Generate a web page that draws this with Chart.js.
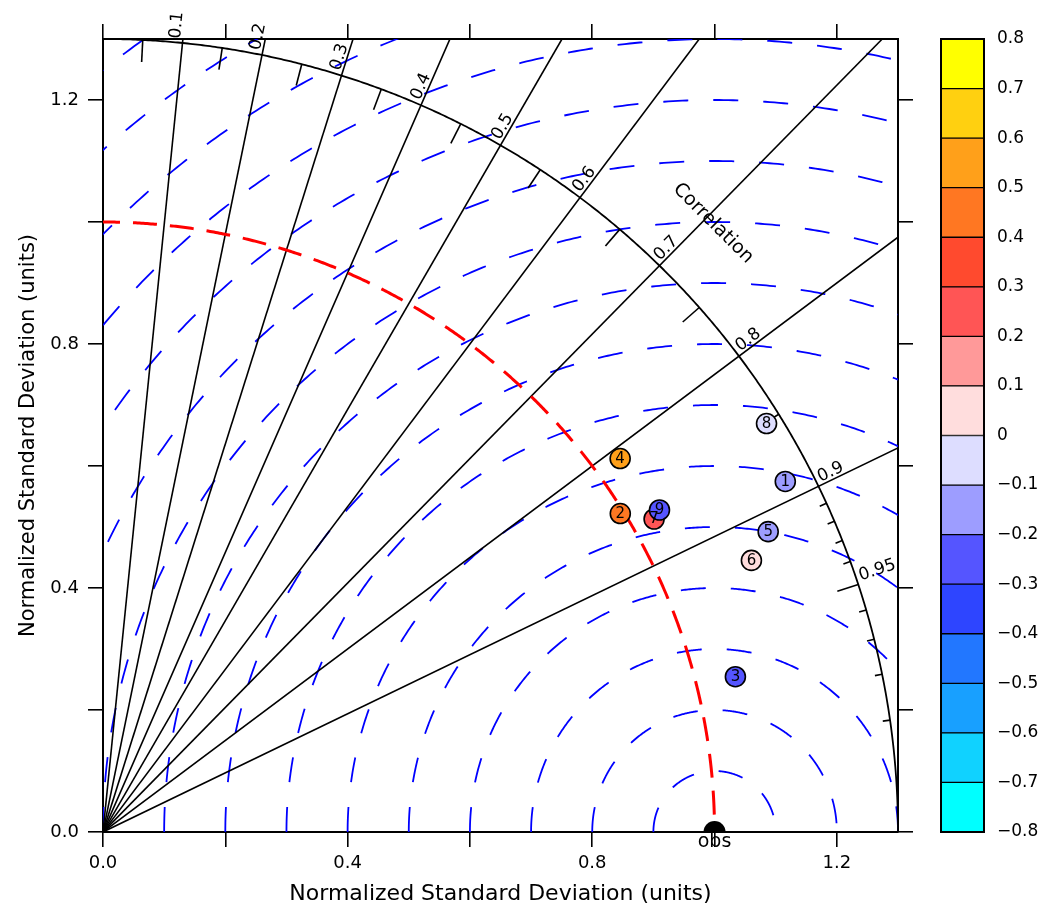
<!DOCTYPE html>
<html><head><meta charset="utf-8">
<script src="https://cdn.jsdelivr.net/npm/chart.js@4.4.0/dist/chart.umd.min.js"></script>
<style>
html,body{margin:0;padding:0;background:#fff;}
#wrap{position:relative;width:1043px;height:910px;overflow:hidden;}
#main{position:absolute;left:0;top:0;}
#cbar{position:absolute;left:930px;top:0;}
</style></head><body>
<div id="wrap"><canvas id="main" width="1043" height="910"></canvas><canvas id="cbar" width="113" height="910"></canvas></div>
<script>
// ---------------- data ----------------
const modelLabels   = ["1","2","3","4","5","6","7","8","9"];
const modelStdRatio = [1.255, 0.994, 1.065, 1.044, 1.194, 1.150, 1.037, 1.275, 1.052];
const modelCorr     = [0.889, 0.851, 0.971, 0.810, 0.911, 0.922, 0.869, 0.851, 0.865];
const modelBias     = [-0.15, 0.45, -0.25, 0.55, -0.15, 0.05, 0.25, -0.05, -0.25];
const obsStd = 1.0;
const refStd = 1.0;                       // red dashed reference arc
const axisMax = 1.3;
const axisTicks      = [0, 0.2, 0.4, 0.6, 0.8, 1.0, 1.2];
const axisTickLabels = ["0.0", "", "0.4", "", "0.8", "", "1.2"];
const corrRays       = [0.1, 0.2, 0.3, 0.4, 0.5, 0.6, 0.7, 0.8, 0.9];
const corrLabels     = [0.1, 0.2, 0.3, 0.4, 0.5, 0.6, 0.7, 0.8, 0.9, 0.95];
const corrLongTicks  = [0.05, 0.15, 0.25, 0.35, 0.45, 0.55, 0.65, 0.75, 0.85, 0.95];
const corrShortTicks = [0.91, 0.92, 0.93, 0.94, 0.96, 0.97, 0.98, 0.99];
const rmsRadii       = [0.1, 0.2, 0.3, 0.4, 0.5, 0.6, 0.7, 0.8, 0.9, 1.0, 1.1, 1.2, 1.3, 1.4, 1.5, 1.6];
const cbBounds = [-0.8,-0.7,-0.6,-0.5,-0.4,-0.3,-0.2,-0.1,0,0.1,0.2,0.3,0.4,0.5,0.6,0.7,0.8];
const cbColors = ["#00ffff","#10d2ff","#18a0ff","#2277ff","#2e45ff","#5555ff","#9d9dff","#ddddff",
                  "#ffdddd","#ff9999","#ff5555","#ff4a2e","#ff7722","#ffa01a","#ffd010","#ffff00"];
const cbTickLabels = ["\u22120.8","\u22120.7","\u22120.6","\u22120.5","\u22120.4","\u22120.3","\u22120.2","\u22120.1","0",
                      "0.1","0.2","0.3","0.4","0.5","0.6","0.7","0.8"];

const FONT = "'DejaVu Sans', sans-serif";

function binColor(v){
  for (let i=0;i<cbColors.length;i++){ if (v>=cbBounds[i] && v<cbBounds[i+1]) return cbColors[i]; }
  return v<cbBounds[0]?cbColors[0]:cbColors[cbColors.length-1];
}
const points = modelStdRatio.map((r,i)=>{
  const th = Math.acos(modelCorr[i]);
  return {x: r*Math.cos(th), y: r*Math.sin(th)};
});
const pointColors = modelBias.map(binColor);

// ---------------- taylor plugin ----------------
const taylorPlugin = {
  id: 'taylor',
  beforeDatasetsDraw(chart){
    const {ctx, chartArea: ca, scales:{x, y}} = chart;
    const P = (dx,dy)=>[x.getPixelForValue(dx), y.getPixelForValue(dy)];
    const N = 500;
    ctx.save();
    ctx.beginPath(); ctx.rect(ca.left, ca.top, ca.right-ca.left, ca.bottom-ca.top); ctx.clip();
    // centered RMS circles
    ctx.strokeStyle = '#0000ff'; ctx.lineWidth = 1.8; ctx.setLineDash([25,25]);
    for (const r of rmsRadii){
      ctx.beginPath();
      for (let k=0;k<=N;k++){
        const a = Math.PI*(1-k/N);
        const [px,py] = P(obsStd + r*Math.cos(a), r*Math.sin(a));
        if (k) ctx.lineTo(px,py); else ctx.moveTo(px,py);
      }
      ctx.stroke();
    }
    // rays
    ctx.setLineDash([]); ctx.strokeStyle = '#000'; ctx.lineWidth = 1.6;
    for (const c of corrRays){
      const th = Math.acos(c);
      const t = Math.min(axisMax/Math.cos(th), axisMax/Math.sin(th));
      const [x0,y0] = P(0,0), [x1,y1] = P(t*Math.cos(th), t*Math.sin(th));
      ctx.beginPath(); ctx.moveTo(x0,y0); ctx.lineTo(x1,y1); ctx.stroke();
    }
    // red reference arc
    ctx.strokeStyle = '#ff0000'; ctx.lineWidth = 3; ctx.setLineDash([24,13]); ctx.lineDashOffset = 7;
    ctx.beginPath();
    for (let k=0;k<=N;k++){
      const a = Math.PI/2*(1-k/N);
      const [px,py] = P(refStd*Math.cos(a), refStd*Math.sin(a));
      if (k) ctx.lineTo(px,py); else ctx.moveTo(px,py);
    }
    ctx.stroke();
    ctx.restore();

    // outer correlation arc
    ctx.save();
    ctx.strokeStyle = '#000'; ctx.lineWidth = 1.8; ctx.setLineDash([]);
    ctx.beginPath();
    for (let k=0;k<=N;k++){
      const a = Math.PI/2*k/N;
      const [px,py] = P(axisMax*Math.cos(a), axisMax*Math.sin(a));
      if (k) ctx.lineTo(px,py); else ctx.moveTo(px,py);
    }
    ctx.stroke();
    // arc ticks
    ctx.lineWidth = 1.6;
    const tick = (c,len)=>{
      const th = Math.acos(c);
      const [a1,b1] = P(axisMax*Math.cos(th), axisMax*Math.sin(th));
      const [a2,b2] = P((axisMax-len)*Math.cos(th), (axisMax-len)*Math.sin(th));
      ctx.beginPath(); ctx.moveTo(a1,b1); ctx.lineTo(a2,b2); ctx.stroke();
    };
    corrLongTicks.forEach(c=>tick(c,0.036));
    corrShortTicks.forEach(c=>tick(c,0.012));
    // correlation labels
    ctx.fillStyle = '#000'; ctx.font = '17px '+FONT; ctx.textAlign='left'; ctx.textBaseline='alphabetic';
    for (const c of corrLabels){
      const th = Math.acos(c);
      const [px,py] = P((axisMax+0.006)*Math.cos(th), (axisMax+0.006)*Math.sin(th));
      ctx.save(); ctx.translate(px,py); ctx.rotate(-th);
      ctx.fillText(String(c), 0, -3);
      ctx.restore();
    }
    // "Correlation" title
    {
      const rr = 1.411, th = Math.PI/4;
      const [px,py] = P(rr*Math.cos(th), rr*Math.sin(th));
      ctx.save(); ctx.translate(px,py); ctx.rotate(Math.PI/4);
      ctx.font = '19px '+FONT; ctx.textAlign='center'; ctx.textBaseline='middle';
      ctx.fillText('Correlation', 0, 0);
      ctx.restore();
    }
    ctx.restore();
  },
  afterDatasetsDraw(chart){
    const {ctx, chartArea: ca, scales:{x, y}} = chart;
    // point numbers
    const meta = chart.getDatasetMeta(0);
    ctx.save();
    ctx.fillStyle = '#000'; ctx.font = '15px '+FONT; ctx.textAlign='center'; ctx.textBaseline='middle';
    meta.data.forEach((el,i)=>{ ctx.fillText(modelLabels[i], el.x, el.y+0.5); });
    // obs marker
    const ox = x.getPixelForValue(obsStd), oy = y.getPixelForValue(0);
    ctx.save();
    ctx.beginPath(); ctx.rect(ca.left, ca.top, ca.right-ca.left, ca.bottom-ca.top+1); ctx.clip();
    ctx.beginPath(); ctx.arc(ox, oy, 11, 0, Math.PI*2); ctx.fill();
    ctx.restore();
    ctx.font = '19px '+FONT; ctx.textAlign='center'; ctx.textBaseline='alphabetic';
    ctx.fillText('obs', ox, oy+15);
    ctx.restore();
  }
};

// ---------------- main chart ----------------
const tickFont = {family: FONT, size: 18};
function axisCfg(pos, isLabelled, fitSize){
  const horiz = (pos==='top'||pos==='bottom');
  return {
    type:'linear', position: pos, min:0, max:axisMax,
    afterBuildTicks: s=>{ s.ticks = axisTicks.map(v=>({value:v})); },
    ticks:{ display:isLabelled, callback:(v)=>axisTickLabels[axisTicks.indexOf(v)], font:tickFont, color:'#000',
            padding: horiz?6:9, maxRotation:0, autoSkip:false },
    grid:{ drawOnChartArea:false, drawTicks:true, tickLength:15, color:'#000', lineWidth:1.6 },
    border:{ display:true, color:'#000', width:2 },
    title:{ display:isLabelled, text:'Normalized Standard Deviation (units)', color:'#000',
            font:{family:FONT, size: horiz?22:21}, padding: horiz?{top:0,bottom:3}:{top:16,bottom:0} },
    afterFit: s=>{ if (horiz) s.height = fitSize; else s.width = fitSize; }
  };
}

new Chart(document.getElementById('main'), {
  type:'scatter',
  data:{ datasets:[{
    data: points,
    backgroundColor: pointColors, borderColor:'#000', borderWidth:1.6,
    pointRadius:10, pointHoverRadius:10
  }]},
  options:{
    responsive:false, animation:false, devicePixelRatio:1,
    layout:{padding:0},
    plugins:{legend:{display:false}, tooltip:{enabled:false}},
    scales:{
      x: axisCfg('bottom', true, 78),
      x2: axisCfg('top', false, 39),
      y: axisCfg('left', true, 103),
      y2: axisCfg('right', false, 145)
    }
  },
  plugins:[taylorPlugin]
});

// ---------------- colorbar ----------------
const cbOutline = {
  id:'cbOutline',
  afterDatasetsDraw(chart){
    const {ctx, chartArea:ca} = chart;
    ctx.save(); ctx.strokeStyle='#000'; ctx.lineWidth=2;
    ctx.strokeRect(ca.left, ca.top, ca.right-ca.left, ca.bottom-ca.top);
    ctx.restore();
  }
};
new Chart(document.getElementById('cbar'), {
  type:'bar',
  data:{ labels:['c'], datasets: cbColors.map((c,i)=>({
    data:[[cbBounds[i], cbBounds[i+1]]], backgroundColor:c, borderColor:'#000', borderWidth:1,
    borderSkipped:false, grouped:false, barPercentage:1, categoryPercentage:1
  }))},
  options:{
    responsive:false, animation:false, devicePixelRatio:1,
    layout:{padding:{left:11, top:39, bottom:78, right:0}},
    plugins:{legend:{display:false}, tooltip:{enabled:false}},
    scales:{
      x:{display:false},
      y:{position:'right', min:-0.8, max:0.8,
         afterBuildTicks: s=>{ s.ticks = cbBounds.map(v=>({value:v})); },
         ticks:{ callback:(v)=>cbTickLabels[cbBounds.indexOf(v)], font:{family:FONT, size:17}, color:'#000', padding:13, autoSkip:false },
         grid:{display:false, drawTicks:false}, border:{display:false},
         afterFit: s=>{ s.width = 59; } }
    }
  },
  plugins:[cbOutline]
});
</script>
</body></html>
